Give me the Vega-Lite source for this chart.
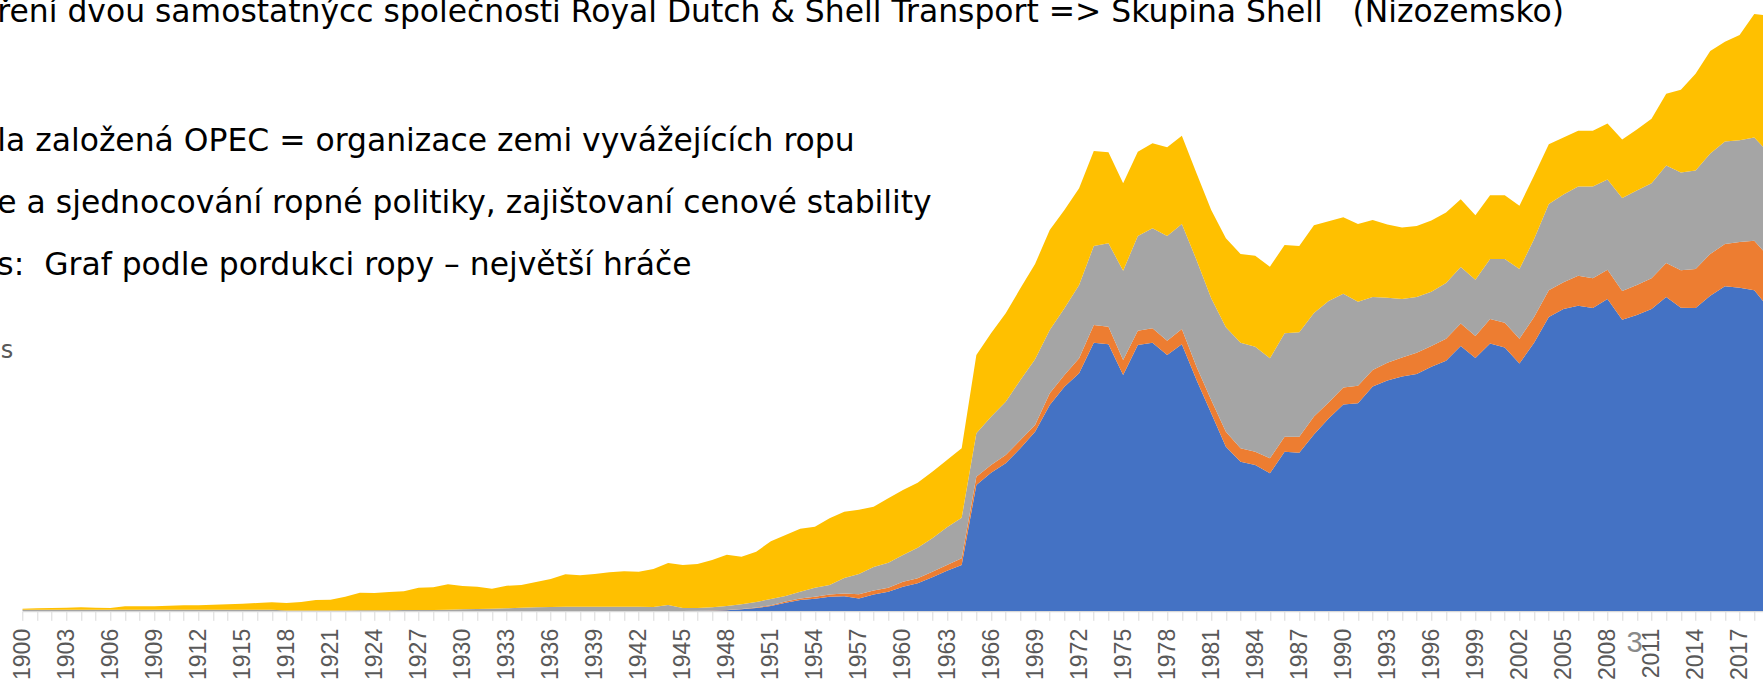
{
"$schema":"https://vega.github.io/schema/vega-lite/v6.json",
"width":1740.7,"height":611,
"autosize":{"type":"none"},
"padding":{"left":22.3,"top":0,"right":0,"bottom":71},
"background":"white",
"config":{"view":{"stroke":null}},
"title":{
 "text":"ření dvou samostatnýcc společnosti Royal Dutch & Shell Transport => Skupina Shell\u00a0\u00a0 (Nizozemsko)",
 "subtitle":["la založená OPEC = organizace zemi vyvážejících ropu","e a sjednocování ropné politiky, zajištovaní cenové stability","s:\u00a0 Graf podle pordukci ropy – největší hráče"],
 "anchor":"start","frame":"group","orient":"top","offset":0,"dx":-25,"dy":281.3,
 "font":"DejaVu Sans","fontSize":31.4,"fontWeight":"normal","color":"#000000",
 "subtitleFont":"DejaVu Sans","subtitleFontSize":31.4,"subtitleFontWeight":"normal","subtitleColor":"#000000",
 "subtitleLineHeight":62,"subtitlePadding":97.6
},
"data":{"values":[
{"year":1900,"series":"Řada 1","value":0},{"year":1900,"series":"Řada 2","value":0},{"year":1900,"series":"Řada 3","value":1.2},{"year":1900,"series":"Řada 4","value":1.1},
{"year":1901,"series":"Řada 1","value":0},{"year":1901,"series":"Řada 2","value":0},{"year":1901,"series":"Řada 3","value":1.2},{"year":1901,"series":"Řada 4","value":1.5},
{"year":1902,"series":"Řada 1","value":0},{"year":1902,"series":"Řada 2","value":0},{"year":1902,"series":"Řada 3","value":1.2},{"year":1902,"series":"Řada 4","value":1.8},
{"year":1903,"series":"Řada 1","value":0},{"year":1903,"series":"Řada 2","value":0},{"year":1903,"series":"Řada 3","value":1.2},{"year":1903,"series":"Řada 4","value":2.1},
{"year":1904,"series":"Řada 1","value":0},{"year":1904,"series":"Řada 2","value":0},{"year":1904,"series":"Řada 3","value":1.3},{"year":1904,"series":"Řada 4","value":2.4},
{"year":1905,"series":"Řada 1","value":0},{"year":1905,"series":"Řada 2","value":0},{"year":1905,"series":"Řada 3","value":1.3},{"year":1905,"series":"Řada 4","value":2.0},
{"year":1906,"series":"Řada 1","value":0},{"year":1906,"series":"Řada 2","value":0},{"year":1906,"series":"Řada 3","value":1.2},{"year":1906,"series":"Řada 4","value":1.8},
{"year":1907,"series":"Řada 1","value":0},{"year":1907,"series":"Řada 2","value":0},{"year":1907,"series":"Řada 3","value":1.3},{"year":1907,"series":"Řada 4","value":3.4},
{"year":1908,"series":"Řada 1","value":0},{"year":1908,"series":"Řada 2","value":0},{"year":1908,"series":"Řada 3","value":1.3},{"year":1908,"series":"Řada 4","value":3.4},
{"year":1909,"series":"Řada 1","value":0},{"year":1909,"series":"Řada 2","value":0},{"year":1909,"series":"Řada 3","value":1.3},{"year":1909,"series":"Řada 4","value":3.4},
{"year":1910,"series":"Řada 1","value":0},{"year":1910,"series":"Řada 2","value":0},{"year":1910,"series":"Řada 3","value":1.3},{"year":1910,"series":"Řada 4","value":4.0},
{"year":1911,"series":"Řada 1","value":0},{"year":1911,"series":"Řada 2","value":0},{"year":1911,"series":"Řada 3","value":1.3},{"year":1911,"series":"Řada 4","value":4.4},
{"year":1912,"series":"Řada 1","value":0},{"year":1912,"series":"Řada 2","value":0},{"year":1912,"series":"Řada 3","value":1.3},{"year":1912,"series":"Řada 4","value":4.4},
{"year":1913,"series":"Řada 1","value":0},{"year":1913,"series":"Řada 2","value":0},{"year":1913,"series":"Řada 3","value":1.3},{"year":1913,"series":"Řada 4","value":5.0},
{"year":1914,"series":"Řada 1","value":0},{"year":1914,"series":"Řada 2","value":0},{"year":1914,"series":"Řada 3","value":1.3},{"year":1914,"series":"Řada 4","value":5.4},
{"year":1915,"series":"Řada 1","value":0},{"year":1915,"series":"Řada 2","value":0},{"year":1915,"series":"Řada 3","value":1.3},{"year":1915,"series":"Řada 4","value":6.0},
{"year":1916,"series":"Řada 1","value":0},{"year":1916,"series":"Řada 2","value":0},{"year":1916,"series":"Řada 3","value":1.3},{"year":1916,"series":"Řada 4","value":6.7},
{"year":1917,"series":"Řada 1","value":0},{"year":1917,"series":"Řada 2","value":0},{"year":1917,"series":"Řada 3","value":1.2},{"year":1917,"series":"Řada 4","value":7.5},
{"year":1918,"series":"Řada 1","value":0},{"year":1918,"series":"Řada 2","value":0},{"year":1918,"series":"Řada 3","value":0.6},{"year":1918,"series":"Řada 4","value":7.4},
{"year":1919,"series":"Řada 1","value":0},{"year":1919,"series":"Řada 2","value":0},{"year":1919,"series":"Řada 3","value":0.5},{"year":1919,"series":"Řada 4","value":8.5},
{"year":1920,"series":"Řada 1","value":0},{"year":1920,"series":"Řada 2","value":0},{"year":1920,"series":"Řada 3","value":0.5},{"year":1920,"series":"Řada 4","value":10.5},
{"year":1921,"series":"Řada 1","value":0},{"year":1921,"series":"Řada 2","value":0},{"year":1921,"series":"Řada 3","value":0.5},{"year":1921,"series":"Řada 4","value":10.8},
{"year":1922,"series":"Řada 1","value":0},{"year":1922,"series":"Řada 2","value":0},{"year":1922,"series":"Řada 3","value":0.6},{"year":1922,"series":"Řada 4","value":13.7},
{"year":1923,"series":"Řada 1","value":0},{"year":1923,"series":"Řada 2","value":0},{"year":1923,"series":"Řada 3","value":0.7},{"year":1923,"series":"Řada 4","value":17.6},
{"year":1924,"series":"Řada 1","value":0},{"year":1924,"series":"Řada 2","value":0},{"year":1924,"series":"Řada 3","value":0.8},{"year":1924,"series":"Řada 4","value":17.2},
{"year":1925,"series":"Řada 1","value":0},{"year":1925,"series":"Řada 2","value":0},{"year":1925,"series":"Řada 3","value":0.8},{"year":1925,"series":"Řada 4","value":18.2},
{"year":1926,"series":"Řada 1","value":0},{"year":1926,"series":"Řada 2","value":0},{"year":1926,"series":"Řada 3","value":0.9},{"year":1926,"series":"Řada 4","value":18.8},
{"year":1927,"series":"Řada 1","value":0},{"year":1927,"series":"Řada 2","value":0},{"year":1927,"series":"Řada 3","value":1.0},{"year":1927,"series":"Řada 4","value":22.3},
{"year":1928,"series":"Řada 1","value":0},{"year":1928,"series":"Řada 2","value":0},{"year":1928,"series":"Řada 3","value":1.0},{"year":1928,"series":"Řada 4","value":22.7},
{"year":1929,"series":"Řada 1","value":0},{"year":1929,"series":"Řada 2","value":0},{"year":1929,"series":"Řada 3","value":1.3},{"year":1929,"series":"Řada 4","value":25.4},
{"year":1930,"series":"Řada 1","value":0},{"year":1930,"series":"Řada 2","value":0},{"year":1930,"series":"Řada 3","value":1.7},{"year":1930,"series":"Řada 4","value":23.3},
{"year":1931,"series":"Řada 1","value":0},{"year":1931,"series":"Řada 2","value":0},{"year":1931,"series":"Řada 3","value":2.0},{"year":1931,"series":"Řada 4","value":22.3},
{"year":1932,"series":"Řada 1","value":0},{"year":1932,"series":"Řada 2","value":0},{"year":1932,"series":"Řada 3","value":2.3},{"year":1932,"series":"Řada 4","value":20.0},
{"year":1933,"series":"Řada 1","value":0},{"year":1933,"series":"Řada 2","value":0},{"year":1933,"series":"Řada 3","value":2.7},{"year":1933,"series":"Řada 4","value":22.6},
{"year":1934,"series":"Řada 1","value":0},{"year":1934,"series":"Řada 2","value":0},{"year":1934,"series":"Řada 3","value":3.3},{"year":1934,"series":"Řada 4","value":22.7},
{"year":1935,"series":"Řada 1","value":0},{"year":1935,"series":"Řada 2","value":0},{"year":1935,"series":"Řada 3","value":3.7},{"year":1935,"series":"Řada 4","value":25.3},
{"year":1936,"series":"Řada 1","value":0},{"year":1936,"series":"Řada 2","value":0},{"year":1936,"series":"Řada 3","value":4.0},{"year":1936,"series":"Řada 4","value":28.0},
{"year":1937,"series":"Řada 1","value":0},{"year":1937,"series":"Řada 2","value":0},{"year":1937,"series":"Řada 3","value":4.3},{"year":1937,"series":"Řada 4","value":32.4},
{"year":1938,"series":"Řada 1","value":0},{"year":1938,"series":"Řada 2","value":0},{"year":1938,"series":"Řada 3","value":4.3},{"year":1938,"series":"Řada 4","value":31.4},
{"year":1939,"series":"Řada 1","value":0},{"year":1939,"series":"Řada 2","value":0},{"year":1939,"series":"Řada 3","value":4.3},{"year":1939,"series":"Řada 4","value":32.7},
{"year":1940,"series":"Řada 1","value":0},{"year":1940,"series":"Řada 2","value":0},{"year":1940,"series":"Řada 3","value":4.3},{"year":1940,"series":"Řada 4","value":34.4},
{"year":1941,"series":"Řada 1","value":0},{"year":1941,"series":"Řada 2","value":0},{"year":1941,"series":"Řada 3","value":4.3},{"year":1941,"series":"Řada 4","value":35.4},
{"year":1942,"series":"Řada 1","value":0},{"year":1942,"series":"Řada 2","value":0},{"year":1942,"series":"Řada 3","value":4.3},{"year":1942,"series":"Řada 4","value":35.0},
{"year":1943,"series":"Řada 1","value":0},{"year":1943,"series":"Řada 2","value":0},{"year":1943,"series":"Řada 3","value":4.0},{"year":1943,"series":"Řada 4","value":38.0},
{"year":1944,"series":"Řada 1","value":0},{"year":1944,"series":"Řada 2","value":0},{"year":1944,"series":"Řada 3","value":6.0},{"year":1944,"series":"Řada 4","value":42.0},
{"year":1945,"series":"Řada 1","value":0},{"year":1945,"series":"Řada 2","value":0},{"year":1945,"series":"Řada 3","value":3.0},{"year":1945,"series":"Řada 4","value":43.0},
{"year":1946,"series":"Řada 1","value":0.3},{"year":1946,"series":"Řada 2","value":0},{"year":1946,"series":"Řada 3","value":2.7},{"year":1946,"series":"Řada 4","value":44.0},
{"year":1947,"series":"Řada 1","value":0.3},{"year":1947,"series":"Řada 2","value":0.1},{"year":1947,"series":"Řada 3","value":3.3},{"year":1947,"series":"Řada 4","value":47.3},
{"year":1948,"series":"Řada 1","value":0.7},{"year":1948,"series":"Řada 2","value":0.2},{"year":1948,"series":"Řada 3","value":4.1},{"year":1948,"series":"Řada 4","value":51.3},
{"year":1949,"series":"Řada 1","value":1.7},{"year":1949,"series":"Řada 2","value":0.3},{"year":1949,"series":"Řada 3","value":4.7},{"year":1949,"series":"Řada 4","value":47.6},
{"year":1950,"series":"Řada 1","value":3.0},{"year":1950,"series":"Řada 2","value":0.6},{"year":1950,"series":"Řada 3","value":5.4},{"year":1950,"series":"Řada 4","value":50.3},
{"year":1951,"series":"Řada 1","value":5.0},{"year":1951,"series":"Řada 2","value":0.8},{"year":1951,"series":"Řada 3","value":6.2},{"year":1951,"series":"Řada 4","value":57.7},
{"year":1952,"series":"Řada 1","value":8.3},{"year":1952,"series":"Řada 2","value":1.2},{"year":1952,"series":"Řada 3","value":5.5},{"year":1952,"series":"Řada 4","value":61.0},
{"year":1953,"series":"Řada 1","value":11.0},{"year":1953,"series":"Řada 2","value":1.5},{"year":1953,"series":"Řada 3","value":6.8},{"year":1953,"series":"Řada 4","value":63.0},
{"year":1954,"series":"Řada 1","value":12.3},{"year":1954,"series":"Řada 2","value":1.9},{"year":1954,"series":"Řada 3","value":9.1},{"year":1954,"series":"Řada 4","value":61.0},
{"year":1955,"series":"Řada 1","value":14.3},{"year":1955,"series":"Řada 2","value":2.2},{"year":1955,"series":"Řada 3","value":9.5},{"year":1955,"series":"Řada 4","value":66.7},
{"year":1956,"series":"Řada 1","value":14.7},{"year":1956,"series":"Řada 2","value":2.8},{"year":1956,"series":"Řada 3","value":15.5},{"year":1956,"series":"Řada 4","value":66.3},
{"year":1957,"series":"Řada 1","value":12.5},{"year":1957,"series":"Řada 2","value":4.3},{"year":1957,"series":"Řada 3","value":20.2},{"year":1957,"series":"Řada 4","value":64.3},
{"year":1958,"series":"Řada 1","value":16.5},{"year":1958,"series":"Řada 2","value":4.0},{"year":1958,"series":"Řada 3","value":23.5},{"year":1958,"series":"Řada 4","value":60.3},
{"year":1959,"series":"Řada 1","value":19.3},{"year":1959,"series":"Řada 2","value":4.0},{"year":1959,"series":"Řada 3","value":25.0},{"year":1959,"series":"Řada 4","value":64.4},
{"year":1960,"series":"Řada 1","value":24.3},{"year":1960,"series":"Řada 2","value":5.0},{"year":1960,"series":"Řada 3","value":26.7},{"year":1960,"series":"Řada 4","value":65.0},
{"year":1961,"series":"Řada 1","value":27.7},{"year":1961,"series":"Řada 2","value":5.0},{"year":1961,"series":"Řada 3","value":30.6},{"year":1961,"series":"Řada 4","value":65.0},
{"year":1962,"series":"Řada 1","value":33.7},{"year":1962,"series":"Řada 2","value":5.6},{"year":1962,"series":"Řada 3","value":33.4},{"year":1962,"series":"Řada 4","value":66.6},
{"year":1963,"series":"Řada 1","value":40.3},{"year":1963,"series":"Řada 2","value":5.7},{"year":1963,"series":"Řada 3","value":37.7},{"year":1963,"series":"Řada 4","value":67.3},
{"year":1964,"series":"Řada 1","value":46.0},{"year":1964,"series":"Řada 2","value":6.7},{"year":1964,"series":"Řada 3","value":40.6},{"year":1964,"series":"Řada 4","value":69.4},
{"year":1965,"series":"Řada 1","value":126.0},{"year":1965,"series":"Řada 2","value":8.3},{"year":1965,"series":"Řada 3","value":43.4},{"year":1965,"series":"Řada 4","value":78.3},
{"year":1966,"series":"Řada 1","value":138.3},{"year":1966,"series":"Řada 2","value":7.7},{"year":1966,"series":"Řada 3","value":48.3},{"year":1966,"series":"Řada 4","value":83.4},
{"year":1967,"series":"Řada 1","value":147.7},{"year":1967,"series":"Řada 2","value":8.3},{"year":1967,"series":"Řada 3","value":53.3},{"year":1967,"series":"Řada 4","value":88.4},
{"year":1968,"series":"Řada 1","value":162.7},{"year":1968,"series":"Řada 2","value":8.3},{"year":1968,"series":"Řada 3","value":60.0},{"year":1968,"series":"Řada 4","value":91.7},
{"year":1969,"series":"Řada 1","value":179.3},{"year":1969,"series":"Řada 2","value":6.7},{"year":1969,"series":"Řada 3","value":65.7},{"year":1969,"series":"Řada 4","value":95.3},
{"year":1970,"series":"Řada 1","value":206.0},{"year":1970,"series":"Řada 2","value":11.7},{"year":1970,"series":"Řada 3","value":63.3},{"year":1970,"series":"Řada 4","value":100.0},
{"year":1971,"series":"Řada 1","value":224.3},{"year":1971,"series":"Řada 2","value":11.7},{"year":1971,"series":"Řada 3","value":66.7},{"year":1971,"series":"Řada 4","value":98.3},
{"year":1972,"series":"Řada 1","value":237.7},{"year":1972,"series":"Řada 2","value":15.0},{"year":1972,"series":"Řada 3","value":73.3},{"year":1972,"series":"Řada 4","value":96.7},
{"year":1973,"series":"Řada 1","value":268.3},{"year":1973,"series":"Řada 2","value":17.7},{"year":1973,"series":"Řada 3","value":79.0},{"year":1973,"series":"Řada 4","value":95.0},
{"year":1974,"series":"Řada 1","value":266.7},{"year":1974,"series":"Řada 2","value":17.6},{"year":1974,"series":"Řada 3","value":83.4},{"year":1974,"series":"Řada 4","value":91.0},
{"year":1975,"series":"Řada 1","value":236.0},{"year":1975,"series":"Řada 2","value":15.0},{"year":1975,"series":"Řada 3","value":89.3},{"year":1975,"series":"Řada 4","value":87.4},
{"year":1976,"series":"Řada 1","value":266.0},{"year":1976,"series":"Řada 2","value":14.3},{"year":1976,"series":"Řada 3","value":94.7},{"year":1976,"series":"Řada 4","value":84.3},
{"year":1977,"series":"Řada 1","value":268.3},{"year":1977,"series":"Řada 2","value":14.4},{"year":1977,"series":"Řada 3","value":100.0},{"year":1977,"series":"Řada 4","value":85.0},
{"year":1978,"series":"Řada 1","value":256.0},{"year":1978,"series":"Řada 2","value":14.3},{"year":1978,"series":"Řada 3","value":104.7},{"year":1978,"series":"Řada 4","value":88.7},
{"year":1979,"series":"Řada 1","value":266.7},{"year":1979,"series":"Řada 2","value":15.3},{"year":1979,"series":"Řada 3","value":105.0},{"year":1979,"series":"Řada 4","value":88.3},
{"year":1980,"series":"Řada 1","value":231.0},{"year":1980,"series":"Řada 2","value":13.3},{"year":1980,"series":"Řada 3","value":106.7},{"year":1980,"series":"Řada 4","value":86.7},
{"year":1981,"series":"Řada 1","value":197.7},{"year":1981,"series":"Řada 2","value":13.3},{"year":1981,"series":"Řada 3","value":101.7},{"year":1981,"series":"Řada 4","value":88.3},
{"year":1982,"series":"Řada 1","value":164.3},{"year":1982,"series":"Řada 2","value":15.0},{"year":1982,"series":"Řada 3","value":104.4},{"year":1982,"series":"Řada 4","value":89.0},
{"year":1983,"series":"Řada 1","value":149.3},{"year":1983,"series":"Řada 2","value":13.4},{"year":1983,"series":"Řada 3","value":105.6},{"year":1983,"series":"Řada 4","value":88.7},
{"year":1984,"series":"Řada 1","value":146.0},{"year":1984,"series":"Řada 2","value":13.3},{"year":1984,"series":"Řada 3","value":105.0},{"year":1984,"series":"Řada 4","value":91.0},
{"year":1985,"series":"Řada 1","value":137.7},{"year":1985,"series":"Řada 2","value":15.0},{"year":1985,"series":"Řada 3","value":100.0},{"year":1985,"series":"Řada 4","value":91.6},
{"year":1986,"series":"Řada 1","value":159.3},{"year":1986,"series":"Řada 2","value":15.0},{"year":1986,"series":"Řada 3","value":103.4},{"year":1986,"series":"Řada 4","value":88.3},
{"year":1987,"series":"Řada 1","value":158.3},{"year":1987,"series":"Řada 2","value":16.0},{"year":1987,"series":"Řada 3","value":104.4},{"year":1987,"series":"Řada 4","value":86.3},
{"year":1988,"series":"Řada 1","value":176.6},{"year":1988,"series":"Řada 2","value":17.9},{"year":1988,"series":"Řada 3","value":103.6},{"year":1988,"series":"Řada 4","value":87.7},
{"year":1989,"series":"Řada 1","value":192.5},{"year":1989,"series":"Řada 2","value":15.9},{"year":1989,"series":"Řada 3","value":101.7},{"year":1989,"series":"Řada 4","value":79.7},
{"year":1990,"series":"Řada 1","value":206.5},{"year":1990,"series":"Řada 2","value":17.1},{"year":1990,"series":"Řada 3","value":93.7},{"year":1990,"series":"Řada 4","value":76.5},
{"year":1991,"series":"Řada 1","value":207.7},{"year":1991,"series":"Řada 2","value":17.5},{"year":1991,"series":"Řada 3","value":84.1},{"year":1991,"series":"Řada 4","value":77.7},
{"year":1992,"series":"Řada 1","value":224.4},{"year":1992,"series":"Řada 2","value":16.7},{"year":1992,"series":"Řada 3","value":73.0},{"year":1992,"series":"Řada 4","value":76.9},
{"year":1993,"series":"Řada 1","value":230.4},{"year":1993,"series":"Řada 2","value":17.9},{"year":1993,"series":"Řada 3","value":65.0},{"year":1993,"series":"Řada 4","value":73.3},
{"year":1994,"series":"Řada 1","value":234.4},{"year":1994,"series":"Řada 2","value":19.1},{"year":1994,"series":"Řada 3","value":58.6},{"year":1994,"series":"Řada 4","value":71.3},
{"year":1995,"series":"Řada 1","value":237.1},{"year":1995,"series":"Řada 2","value":21.2},{"year":1995,"series":"Řada 3","value":55.8},{"year":1995,"series":"Řada 4","value":70.9},
{"year":1996,"series":"Řada 1","value":244.3},{"year":1996,"series":"Řada 2","value":20.7},{"year":1996,"series":"Řada 3","value":54.3},{"year":1996,"series":"Řada 4","value":71.3},
{"year":1997,"series":"Řada 1","value":250.3},{"year":1997,"series":"Řada 2","value":21.9},{"year":1997,"series":"Řada 3","value":55.8},{"year":1997,"series":"Řada 4","value":70.6},
{"year":1998,"series":"Řada 1","value":265.0},{"year":1998,"series":"Řada 2","value":22.4},{"year":1998,"series":"Řada 3","value":56.6},{"year":1998,"series":"Řada 4","value":67.7},
{"year":1999,"series":"Řada 1","value":253.1},{"year":1999,"series":"Řada 2","value":21.9},{"year":1999,"series":"Řada 3","value":56.2},{"year":1999,"series":"Řada 4","value":64.6},
{"year":2000,"series":"Řada 1","value":267.4},{"year":2000,"series":"Řada 2","value":24.7},{"year":2000,"series":"Řada 3","value":59.9},{"year":2000,"series":"Řada 4","value":63.7},
{"year":2001,"series":"Řada 1","value":263.5},{"year":2001,"series":"Řada 2","value":24.7},{"year":2001,"series":"Řada 3","value":63.8},{"year":2001,"series":"Řada 4","value":63.7},
{"year":2002,"series":"Řada 1","value":247.5},{"year":2002,"series":"Řada 2","value":24.7},{"year":2002,"series":"Řada 3","value":69.8},{"year":2002,"series":"Řada 4","value":63.3},
{"year":2003,"series":"Řada 1","value":268.2},{"year":2003,"series":"Řada 2","value":25.9},{"year":2003,"series":"Řada 3","value":77.8},{"year":2003,"series":"Řada 4","value":63.7},
{"year":2004,"series":"Řada 1","value":294.1},{"year":2004,"series":"Řada 2","value":26.7},{"year":2004,"series":"Řada 3","value":86.1},{"year":2004,"series":"Řada 4","value":59.8},
{"year":2005,"series":"Řada 1","value":302.1},{"year":2005,"series":"Řada 2","value":26.7},{"year":2005,"series":"Řada 3","value":87.7},{"year":2005,"series":"Řada 4","value":57.0},
{"year":2006,"series":"Řada 1","value":305.3},{"year":2006,"series":"Řada 2","value":29.9},{"year":2006,"series":"Řada 3","value":89.3},{"year":2006,"series":"Řada 4","value":55.8},
{"year":2007,"series":"Řada 1","value":302.9},{"year":2007,"series":"Řada 2","value":29.9},{"year":2007,"series":"Řada 3","value":91.7},{"year":2007,"series":"Řada 4","value":55.8},
{"year":2008,"series":"Řada 1","value":312.1},{"year":2008,"series":"Řada 2","value":29.1},{"year":2008,"series":"Řada 3","value":90.4},{"year":2008,"series":"Řada 4","value":55.8},
{"year":2009,"series":"Řada 1","value":291.3},{"year":2009,"series":"Řada 2","value":28.7},{"year":2009,"series":"Řada 3","value":92.9},{"year":2009,"series":"Řada 4","value":58.6},
{"year":2010,"series":"Řada 1","value":296.1},{"year":2010,"series":"Řada 2","value":29.9},{"year":2010,"series":"Řada 3","value":94.5},{"year":2010,"series":"Řada 4","value":61.0},
{"year":2011,"series":"Řada 1","value":302.1},{"year":2011,"series":"Řada 2","value":30.7},{"year":2011,"series":"Řada 3","value":94.9},{"year":2011,"series":"Řada 4","value":64.5},
{"year":2012,"series":"Řada 1","value":314.1},{"year":2012,"series":"Řada 2","value":33.9},{"year":2012,"series":"Řada 3","value":97.6},{"year":2012,"series":"Řada 4","value":71.7},
{"year":2013,"series":"Řada 1","value":303.3},{"year":2013,"series":"Řada 2","value":37.5},{"year":2013,"series":"Řada 3","value":97.6},{"year":2013,"series":"Řada 4","value":82.9},
{"year":2014,"series":"Řada 1","value":302.9},{"year":2014,"series":"Řada 2","value":39.1},{"year":2014,"series":"Řada 3","value":98.4},{"year":2014,"series":"Řada 4","value":96.9},
{"year":2015,"series":"Řada 1","value":315.3},{"year":2015,"series":"Řada 2","value":41.8},{"year":2015,"series":"Řada 3","value":100.5},{"year":2015,"series":"Řada 4","value":102.4},
{"year":2016,"series":"Řada 1","value":324.8},{"year":2016,"series":"Řada 2","value":42.3},{"year":2016,"series":"Řada 3","value":102.4},{"year":2016,"series":"Řada 4","value":99.7},
{"year":2017,"series":"Řada 1","value":323.2},{"year":2017,"series":"Řada 2","value":45.9},{"year":2017,"series":"Řada 3","value":101.6},{"year":2017,"series":"Řada 4","value":105.2},
{"year":2018,"series":"Řada 1","value":320.8},{"year":2018,"series":"Řada 2","value":49.5},{"year":2018,"series":"Řada 3","value":103.2},{"year":2018,"series":"Řada 4","value":123.6},
{"year":2019,"series":"Řada 1","value":302.7},{"year":2019,"series":"Řada 2","value":51.3},{"year":2019,"series":"Řada 3","value":103.9},{"year":2019,"series":"Řada 4","value":137.2}
]},
"mark":{"type":"area","clip":true,"interpolate":"linear"},
"encoding":{
 "x":{"field":"year","type":"quantitative",
  "scale":{"domain":[1900,2018.5937],"nice":false,"zero":false},
  "axis":{
   "values":[1900,1901,1902,1903,1904,1905,1906,1907,1908,1909,1910,1911,1912,1913,1914,1915,1916,1917,1918,1919,1920,1921,1922,1923,1924,1925,1926,1927,1928,1929,1930,1931,1932,1933,1934,1935,1936,1937,1938,1939,1940,1941,1942,1943,1944,1945,1946,1947,1948,1949,1950,1951,1952,1953,1954,1955,1956,1957,1958,1959,1960,1961,1962,1963,1964,1965,1966,1967,1968,1969,1970,1971,1972,1973,1974,1975,1976,1977,1978,1979,1980,1981,1982,1983,1984,1985,1986,1987,1988,1989,1990,1991,1992,1993,1994,1995,1996,1997,1998,1999,2000,2001,2002,2003,2004,2005,2006,2007,2008,2009,2010,2011,2012,2013,2014,2015,2016,2017,2018],
   "labelExpr":"(datum.value - 1900) % 3 === 0 ? '' + datum.value : ''",
   "labelAngle":-90,"labelAlign":"right","labelBaseline":"middle",
   "labelFont":"Liberation Sans","labelFontSize":23,"labelColor":"#595959",
   "labelPadding":8,"labelOverlap":false,"labelFlush":false,"labelBound":false,
   "tickSize":9.3,"tickColor":"#D9D9D9","tickWidth":1,
   "domainColor":"#D9D9D9","domainWidth":1.3,"grid":false,
   "title":"3","titleX":1611.7,"titleY":40,"titleAlign":"center","titleBaseline":"alphabetic","titleAngle":0,
   "titleFont":"Liberation Sans","titleFontSize":29,"titleColor":"#898989","titleFontWeight":"normal"
  }},
 "y":{"field":"value","type":"quantitative","stack":"zero",
  "scale":{"domain":[0,611],"nice":false,"zero":true},
  "axis":{"labels":false,"ticks":false,"domain":false,"grid":false,
   "title":"s","titleAngle":0,"titleX":-22,"titleY":357,"titleAlign":"left","titleBaseline":"alphabetic",
   "titleFont":"DejaVu Sans","titleFontSize":24,"titleColor":"#595959","titleFontWeight":"normal"}},
 "color":{"field":"series","type":"nominal",
  "scale":{"domain":["Řada 1","Řada 2","Řada 3","Řada 4"],"range":["#4472C4","#ED7D31","#A5A5A5","#FFC000"]},
  "legend":null},
 "order":{"field":"series","type":"ordinal","sort":"ascending"}
}
}
